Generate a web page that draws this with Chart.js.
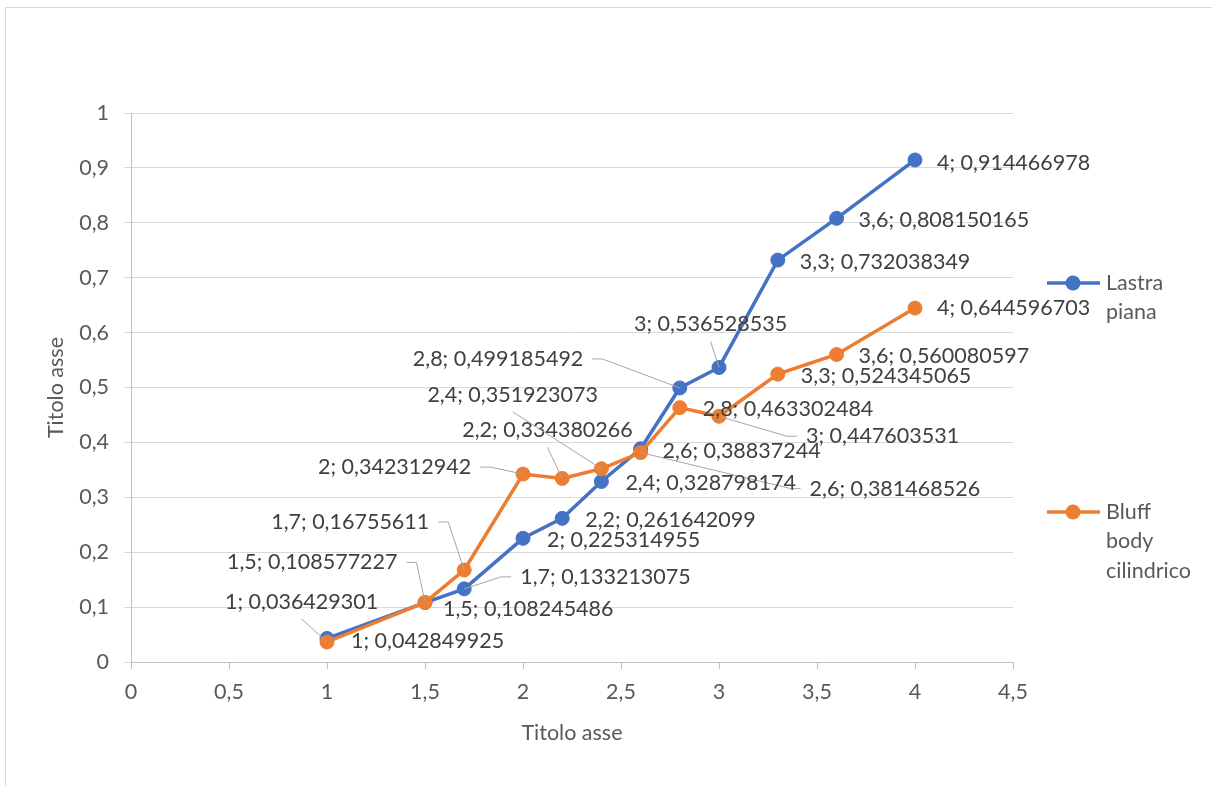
<!DOCTYPE html>
<html>
<head>
<meta charset="utf-8">
<script src="https://cdn.jsdelivr.net/npm/chart.js@4.4.1/dist/chart.umd.min.js"></script>
<style>
  html, body { margin: 0; padding: 0; background: #fff; }
  #wrap { position: relative; width: 1212px; height: 786px; }
</style>
</head>
<body>
<div id="wrap"><canvas id="chart"></canvas></div>
<script>
// Titolo (x) values shared by both series
const xValues = [1, 1.5, 1.7, 2, 2.2, 2.4, 2.6, 2.8, 3, 3.3, 3.6, 4];

const lastraPiana = [0.042849925, 0.108245486, 0.133213075, 0.225314955, 0.261642099, 0.328798174,
  0.38837244, 0.499185492, 0.536528535, 0.732038349, 0.808150165, 0.914466978];

const bluffBody = [0.036429301, 0.108577227, 0.16755611, 0.342312942, 0.334380266, 0.351923073,
  0.381468526, 0.463302484, 0.447603531, 0.524345065, 0.560080597, 0.644596703];

const seriesNames = ["Lastra piana", "Bluff body cilindrico"];

const xMin = 0, xMax = 4.5, xStep = 0.5;
const yMin = 0, yMax = 1, yStep = 0.1;

// label placement: [dx to text left, dy to text middle, leader: 0 none, 1 side, 2 below]
const lastraLabelPos = [
  [24, 3, 0], [18, 6, 0], [56, -12, 1], [24, 2, 0], [23, 2, 0], [24, 2, 0],
  [22, 2, 0], [-267, -29, 1], [-85, -43, 2], [22, 2, 0], [22, 2, 0], [22, 3, 0]
];
const bluffLabelPos = [
  [-102, -40, 2], [-198, -40, 1], [-193, -48, 1], [-205, -7, 1], [-100, -48, 2], [-174, -74, 2],
  [169, 36, 1], [23, 1, 0], [87, 20, 1], [23, 2, 0], [22, 2, 0], [22, 0, 0]
];

const BLUE = "#4472C4";
const ORANGE = "#ED7D31";
const FONT_SIZE = 21.5;

const toPoints = ys => xValues.map((x, i) => ({ x: x, y: ys[i] }));
const fmt = v => String(v).replace(".", ",");

Chart.defaults.font.family = "Lato";
Chart.defaults.font.size = FONT_SIZE;
Chart.defaults.color = "#595959";

// white page with the thin outer frame
const frame = {
  id: "frame",
  beforeDraw(chart) {
    const ctx = chart.ctx;
    ctx.save();
    ctx.fillStyle = "#fff";
    ctx.fillRect(0, 0, chart.width, chart.height);
    ctx.strokeStyle = "#d9d9d9";
    ctx.lineWidth = 1;
    ctx.strokeRect(5.5, 7.5, chart.width + 20, chart.height + 20);
    ctx.restore();
  }
};

// "x; y" labels next to each point, with leader lines where moved away
const pointLabels = {
  id: "pointLabels",
  afterDatasetsDraw(chart) {
    const ctx = chart.ctx;
    ctx.save();
    ctx.font = FONT_SIZE + "px Lato";
    ctx.textBaseline = "middle";
    ctx.textAlign = "left";
    chart.data.datasets.forEach((ds, di) => {
      const meta = chart.getDatasetMeta(di);
      meta.data.forEach((pt, i) => {
        const [dx, dy, lead] = ds.labelPos[i];
        const text = fmt(ds.data[i].x) + "; " + fmt(ds.data[i].y);
        const w = ctx.measureText(text).width;
        const left = pt.x + dx, right = left + w, cy = pt.y + dy;
        if (lead) {
          ctx.strokeStyle = "#a6a6a6";
          ctx.lineWidth = 1;
          ctx.beginPath();
          if (lead === 2) {
            ctx.moveTo(left + w / 2, cy + 17);
          } else if (pt.x > right) {
            ctx.moveTo(right + 9, cy);
            ctx.lineTo(right + 19, cy);
          } else {
            ctx.moveTo(left - 9, cy);
            ctx.lineTo(left - 19, cy);
          }
          ctx.lineTo(pt.x, pt.y);
          ctx.stroke();
        }
        ctx.fillStyle = "#404040";
        ctx.fillText(text, left, cy);
      });
    });
    ctx.restore();
  }
};

// legend on the right, one word per line
const sideLegend = {
  id: "sideLegend",
  afterDraw(chart) {
    const ctx = chart.ctx;
    const tops = [283, 512];
    ctx.save();
    ctx.font = FONT_SIZE + "px Lato";
    ctx.textBaseline = "middle";
    ctx.textAlign = "left";
    [1, 0].forEach((di, k) => {
      const ds = chart.data.datasets[di];
      const y = tops[k];
      ctx.strokeStyle = ds.borderColor;
      ctx.lineWidth = 3.5;
      ctx.beginPath();
      ctx.moveTo(1047, y);
      ctx.lineTo(1100, y);
      ctx.stroke();
      ctx.fillStyle = ds.backgroundColor;
      ctx.beginPath();
      ctx.arc(1073, y, 7.5, 0, Math.PI * 2);
      ctx.fill();
      ctx.fillStyle = "#595959";
      ds.label.split(" ").forEach((word, j) => {
        ctx.fillText(word, 1106, y + j * 29.5);
      });
    });
    ctx.restore();
  }
};

new Chart(document.getElementById("chart"), {
  type: "scatter",
  data: {
    datasets: [
      {
        label: seriesNames[1],
        data: toPoints(bluffBody),
        labelPos: bluffLabelPos,
        showLine: true,
        borderColor: ORANGE,
        backgroundColor: ORANGE,
        borderWidth: 3.5,
        pointRadius: 7,
        pointBorderWidth: 1,
        pointBackgroundColor: ORANGE,
        pointBorderColor: ORANGE
      },
      {
        label: seriesNames[0],
        data: toPoints(lastraPiana),
        labelPos: lastraLabelPos,
        showLine: true,
        borderColor: BLUE,
        backgroundColor: BLUE,
        borderWidth: 3.5,
        pointRadius: 7,
        pointBorderWidth: 1,
        pointBackgroundColor: BLUE,
        pointBorderColor: BLUE
      }
    ]
  },
  options: {
    responsive: true,
    maintainAspectRatio: false,
    animation: false,
    layout: { padding: { left: 0, top: 113, right: 199, bottom: 0 } },
    plugins: {
      legend: { display: false },
      tooltip: { enabled: false }
    },
    scales: {
      x: {
        type: "linear",
        min: xMin,
        max: xMax,
        afterFit: s => { s.height = 124; },
        ticks: {
          stepSize: xStep,
          padding: 10,
          color: "#595959",
          callback: v => fmt(+v.toFixed(1))
        },
        grid: { drawOnChartArea: false, drawTicks: true, tickLength: 7, tickColor: "#bfbfbf" },
        border: { color: "#bfbfbf", width: 1 },
        title: { display: true, text: "Titolo asse", color: "#595959", padding: { top: 0, bottom: 40 } }
      },
      y: {
        type: "linear",
        min: yMin,
        max: yMax,
        afterFit: s => { s.width = 131; },
        ticks: {
          stepSize: yStep,
          padding: 15,
          color: "#595959",
          callback: v => fmt(+v.toFixed(1))
        },
        grid: { color: "#d9d9d9", lineWidth: 1, tickLength: 7, tickColor: "#d9d9d9" },
        border: { color: "#bfbfbf", width: 1 },
        title: { display: true, text: "Titolo asse", color: "#595959", padding: { top: 43, bottom: 0 } }
      }
    }
  },
  plugins: [frame, pointLabels, sideLegend]
});
</script>
</body>
</html>
